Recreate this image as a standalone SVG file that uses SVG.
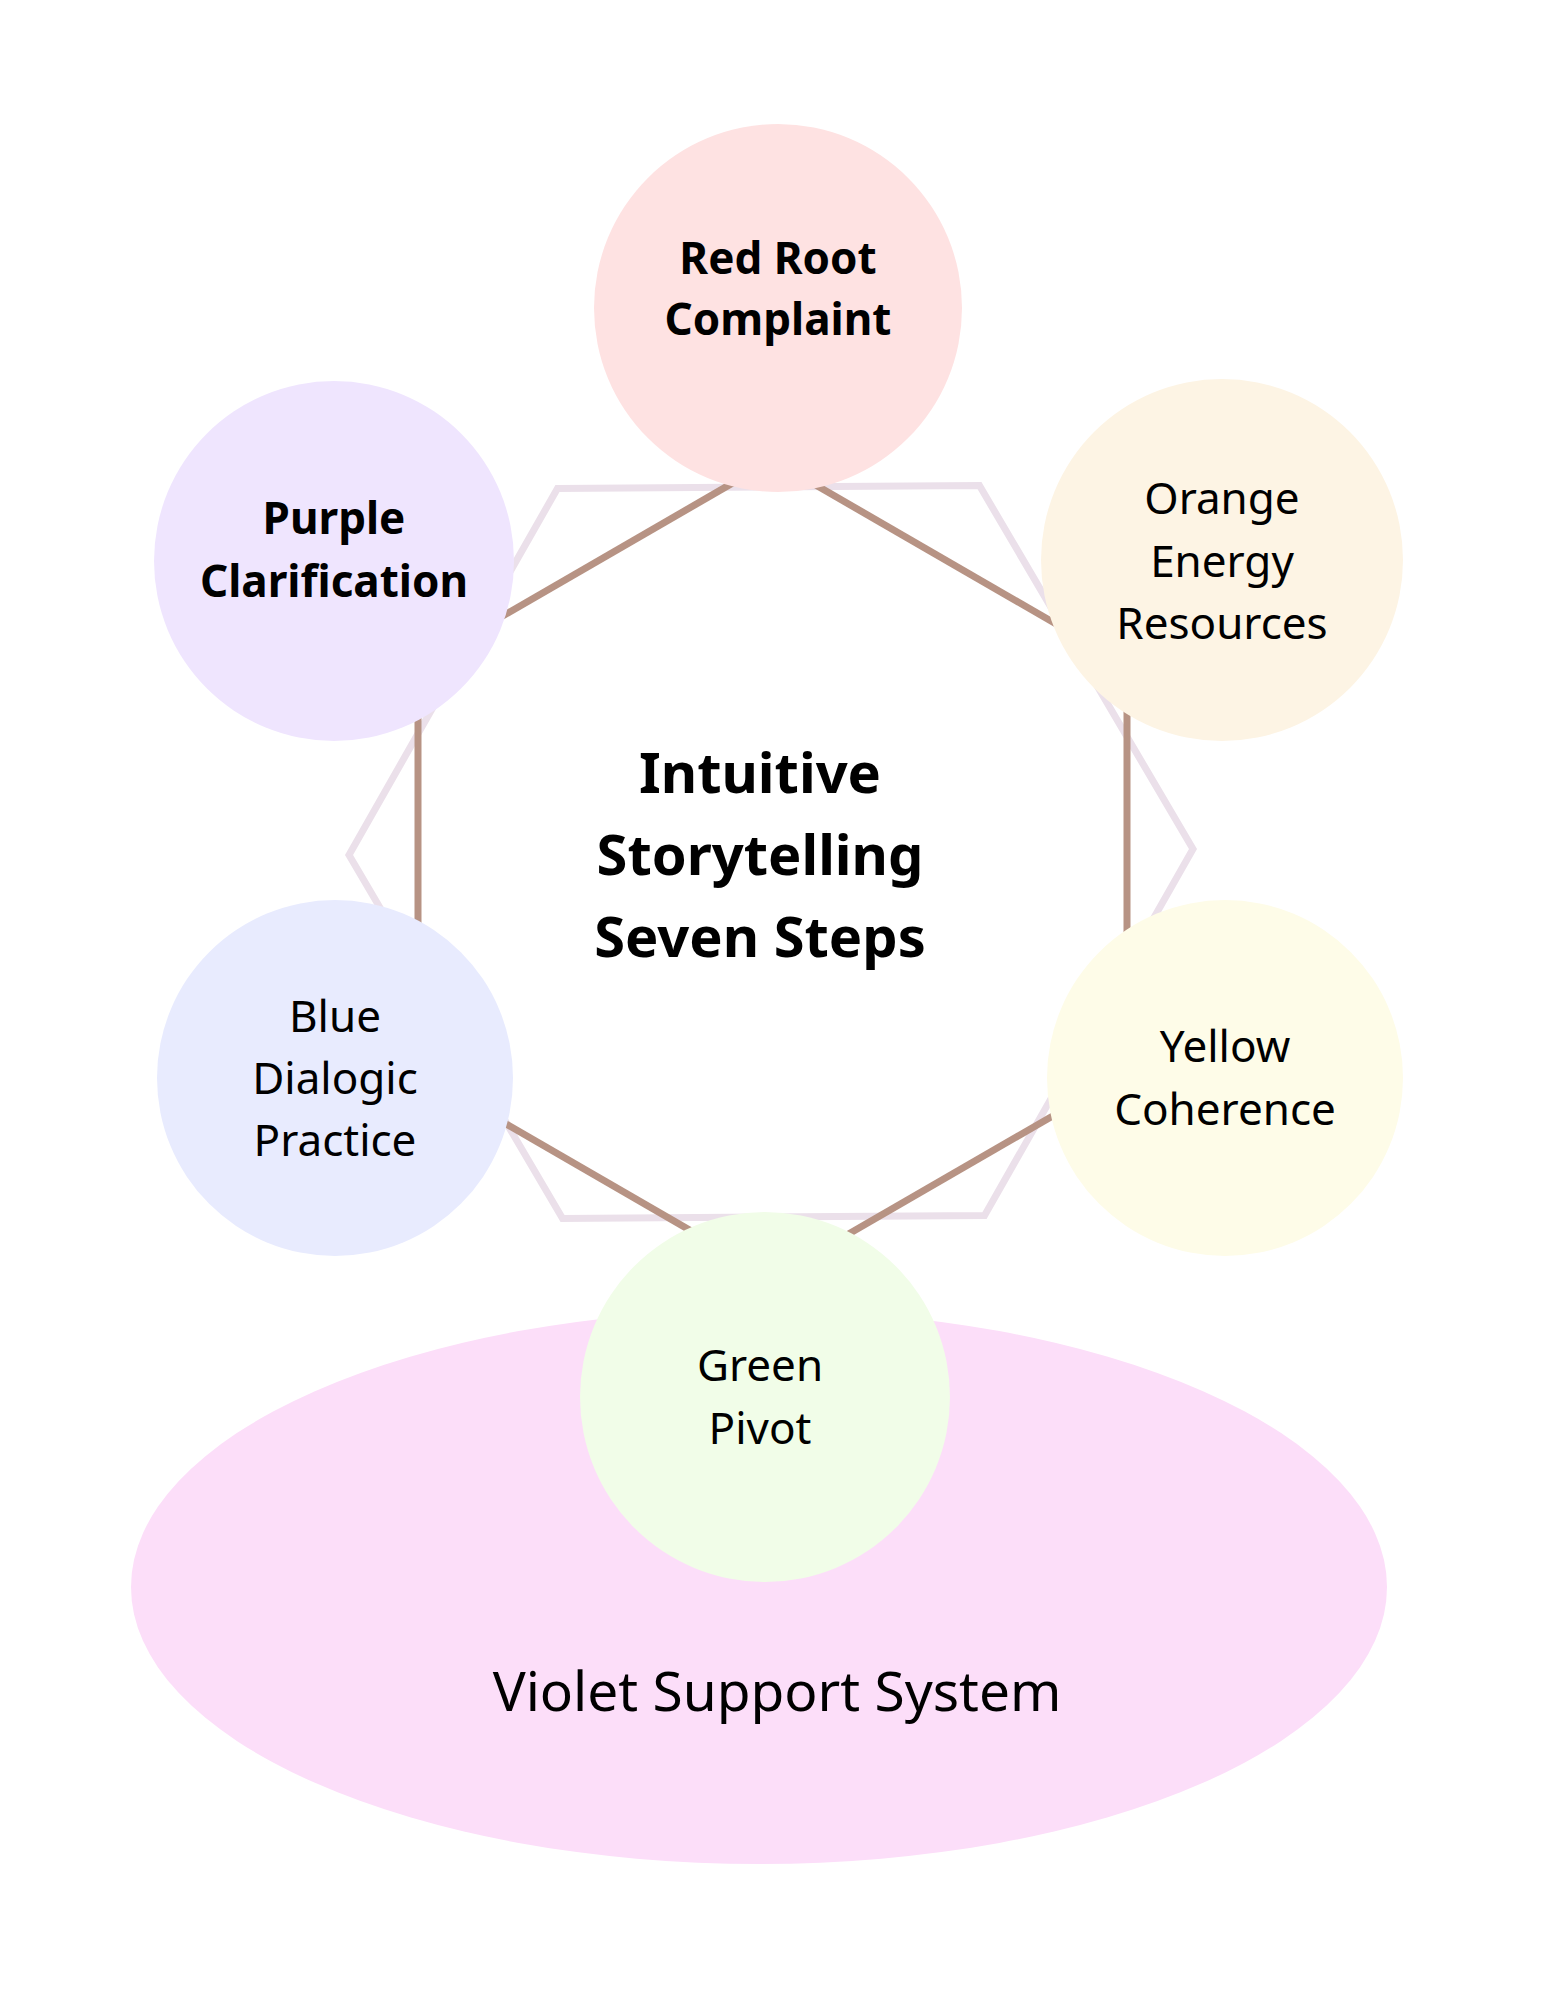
<svg xmlns="http://www.w3.org/2000/svg" width="1545" height="1999" viewBox="0 0 1545 1999">
<style>
  .bg { fill: #ffffff; }
  .t { font-family: "Noto Sans", "DejaVu Sans", sans-serif; fill: #000000; text-anchor: middle; }
  .n { font-size: 44px; font-weight: 400; }
  .b { font-size: 44px; font-weight: 700; }
  .title { font-size: 56px; font-weight: 700; }
  .sup { font-size: 55px; font-weight: 400; }
  .link { stroke: #b79384; stroke-width: 7; fill: none; stroke-linecap: butt; }
  .deco { stroke: #ebe0ea; stroke-width: 7; fill: none; }
</style>
<rect class="bg" x="0" y="0" width="1545" height="1999"/>

<g id="support">
  <ellipse cx="759" cy="1587" rx="628" ry="277" fill="#fcdef9"/>
  <text class="t sup" x="777" y="1711">Violet Support System</text>
</g>

<g id="decor">
  <polygon class="deco" points="560,487 982,487 1193,852 982,1217 560,1217 349,852" transform="rotate(-0.4 771 852)"/>
</g>

<g id="connectors">
  <line class="link" x1="772.5" y1="460" x2="1127" y2="665"/>
  <line class="link" x1="772.5" y1="460" x2="418" y2="665"/>
  <line class="link" x1="1127" y1="665" x2="1127" y2="1073"/>
  <line class="link" x1="418" y1="665" x2="418" y2="1073"/>
  <line class="link" x1="1127" y1="1073" x2="772.5" y2="1278"/>
  <line class="link" x1="418" y1="1073" x2="772.5" y2="1278"/>
</g>

<g id="center">
  <text class="t title" x="760" y="793">Intuitive</text>
  <text class="t title" x="760" y="875">Storytelling</text>
  <text class="t title" x="760" y="957">Seven Steps</text>
</g>

<g id="red">
  <circle cx="778" cy="308" r="184" fill="#fee2e2"/>
  <text class="t b" x="778" y="274">Red Root</text>
  <text class="t b" x="778" y="335">Complaint</text>
</g>

<g id="orange">
  <circle cx="1222" cy="560" r="181" fill="#fdf4e4"/>
  <text class="t n" x="1222" y="514">Orange</text>
  <text class="t n" x="1222" y="577">Energy</text>
  <text class="t n" x="1222" y="639">Resources</text>
</g>

<g id="yellow">
  <circle cx="1225" cy="1078" r="178" fill="#fefce8"/>
  <text class="t n" x="1225" y="1062">Yellow</text>
  <text class="t n" x="1225" y="1125">Coherence</text>
</g>

<g id="green">
  <circle cx="765" cy="1397" r="185" fill="#f1fde8"/>
  <text class="t n" x="760" y="1381">Green</text>
  <text class="t n" x="760" y="1444">Pivot</text>
</g>

<g id="blue">
  <circle cx="335" cy="1078" r="178" fill="#e8ebfe"/>
  <text class="t n" x="335" y="1032">Blue</text>
  <text class="t n" x="335" y="1094">Dialogic</text>
  <text class="t n" x="335" y="1156">Practice</text>
</g>

<g id="purple">
  <circle cx="334" cy="561" r="180" fill="#efe5fe"/>
  <text class="t b" x="334" y="534">Purple</text>
  <text class="t b" x="334" y="597">Clarification</text>
</g>
</svg>
